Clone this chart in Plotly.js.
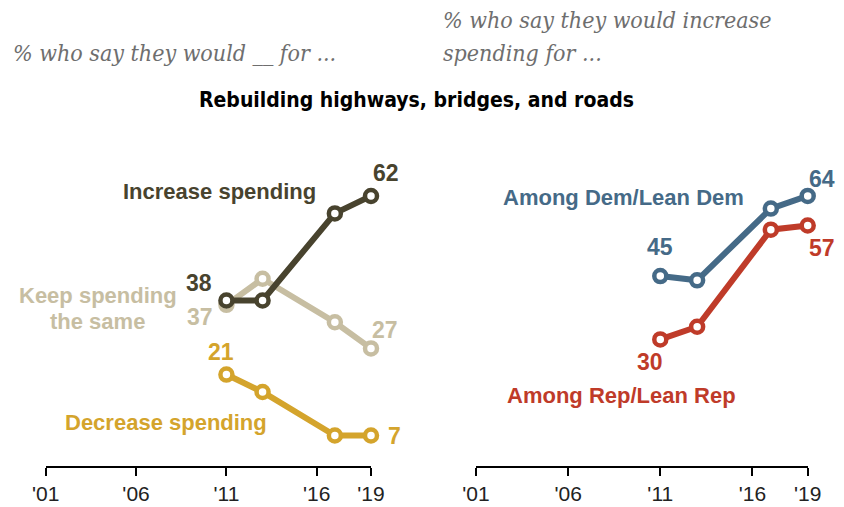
<!DOCTYPE html>
<html>
<head>
<meta charset="utf-8">
<script src="https://cdn.plot.ly/plotly-3.0.1.min.js"></script>
<style>html,body{margin:0;padding:0;background:#fff;}#chart{width:844px;height:507px;}</style>
</head>
<body>
<div id="chart"></div>
<script>
// ---- data ----
const years = [2011, 2013, 2017, 2019];
const increaseSpending = [38, 38, 58, 62];
const keepSame = [37, 43, 33, 27];
const decreaseSpending = [21, 17, 7, 7];
const demLeanDem = [45, 44, 61, 64];
const repLeanRep = [30, 33, 56, 57];
const tickYears = [2001, 2006, 2011, 2016, 2019];
const tickLabels = ["'01", "'06", "'11", "'16", "'19"];

// ---- styles ----
const C_INC = '#48432e', C_KEEP = '#c7bea2', C_DEC = '#d4a42c', C_DEM = '#456a87', C_REP = '#bf3b29';
const W = 844, H = 507;
const px = v => v / W, py = v => 1 - v / H;
const labelFont = 'Liberation Sans, Arial, sans-serif';
const serifFont = 'DejaVu Serif Condensed, DejaVu Serif, serif';

function series(y, color, xa, ya) {
  return {
    x: years, y: y, xaxis: xa, yaxis: ya, type: 'scatter', mode: 'lines+markers',
    line: {color: color, width: 6}, cliponaxis: false, hoverinfo: 'skip',
    marker: {size: 12, color: '#fff', line: {color: color, width: 4.5}}
  };
}
const traces = [
  series(decreaseSpending, C_DEC, 'x', 'y'),
  series(keepSame, C_KEEP, 'x', 'y'),
  series(increaseSpending, C_INC, 'x', 'y'),
  series(repLeanRep, C_REP, 'x2', 'y2'),
  series(demLeanDem, C_DEM, 'x2', 'y2')
];

function xax(domain, anchor) {
  return {
    domain: domain, range: [2001, 2019], anchor: anchor, showgrid: false, zeroline: false,
    showline: true, linecolor: '#000', linewidth: 2,
    ticks: 'outside', ticklen: 8, tickwidth: 2, tickcolor: '#000',
    tickvals: tickYears, ticktext: tickLabels,
    tickfont: {family: labelFont, size: 21, color: '#222'}, fixedrange: true
  };
}
function yax(domain, anchor) {
  return {domain: domain, range: [0, 66], visible: false, fixedrange: true, anchor: anchor};
}

// number labels attached to data points
function num(text, xv, yv, xa, ya, color, xs, ys) {
  return {text: '<b>' + text + '</b>', x: xv, y: yv, xref: xa, yref: ya, showarrow: false,
    xanchor: 'center', yanchor: 'middle',
    xshift: xs, yshift: ys, font: {family: labelFont, size: 23, color: color}};
}
function lab(text, x, y, color) {
  return {text: '<b>' + text + '</b>', x: px(x), y: py(y), xref: 'paper', yref: 'paper',
    xanchor: 'center', yanchor: 'middle',
    showarrow: false, align: 'center', font: {family: labelFont, size: 22, color: color}};
}
function sub(text, x, y) {
  return {text: '<i>' + text + '</i>', x: px(x), y: py(y), xref: 'paper', yref: 'paper',
    xanchor: 'left', yanchor: 'middle', align: 'left', showarrow: false,
    font: {family: serifFont, size: 23, color: '#6e6e6e'}};
}

const annotations = [
  num(increaseSpending[3], years[3], increaseSpending[3], 'x', 'y', C_INC, 15, 23),
  num(increaseSpending[0], years[0], increaseSpending[0], 'x', 'y', C_INC, -27, 18),
  num(keepSame[0], years[0], keepSame[0], 'x', 'y', C_KEEP, -26, -12),
  num(keepSame[3], years[3], keepSame[3], 'x', 'y', C_KEEP, 14, 18),
  num(decreaseSpending[0], years[0], decreaseSpending[0], 'x', 'y', C_DEC, -5, 23),
  num(decreaseSpending[3], years[3], decreaseSpending[3], 'x', 'y', C_DEC, 23, 0),
  num(demLeanDem[3], years[3], demLeanDem[3], 'x2', 'y2', C_DEM, 14, 17),
  num(demLeanDem[0], years[0], demLeanDem[0], 'x2', 'y2', C_DEM, 0, 29),
  num(repLeanRep[3], years[3], repLeanRep[3], 'x2', 'y2', C_REP, 14, -23),
  num(repLeanRep[0], years[0], repLeanRep[0], 'x2', 'y2', C_REP, -10, -23),
  lab('Increase spending', 219.5, 191.5, C_INC),
  lab('Keep spending', 97.5, 295.5, C_KEEP),
  lab('the same', 97.5, 321.5, C_KEEP),
  lab('Decrease spending', 166, 422.5, C_DEC),
  lab('Among Dem/Lean Dem', 623.3, 197.5, C_DEM),
  lab('Among Rep/Lean Rep', 621.7, 395.5, C_REP),
  // subtitles and title
  sub('% who say they would __ for ...', 11, 53),
  sub('% who say they would increase', 441, 20),
  sub('spending for ...', 441, 53),
  {text: '<b>Rebuilding highways, bridges, and roads</b>', x: px(416.5), y: py(100), xref: 'paper', yref: 'paper',
    xanchor: 'center', yanchor: 'middle', showarrow: false,
    font: {family: 'Liberation Sans Narrow, DejaVu Sans Condensed, Arial Narrow, sans-serif', size: 21, color: '#000'}}
];

const layout = {
  width: W, height: H, margin: {l: 0, r: 0, t: 0, b: 0},
  paper_bgcolor: '#fff', plot_bgcolor: 'rgba(0,0,0,0)', showlegend: false,
  xaxis: xax([px(45.7), px(371)], 'y'),
  yaxis: yax([py(466), py(466 - 66 * 4.355)], 'x'),
  xaxis2: xax([px(476), px(807.7)], 'y2'),
  yaxis2: yax([py(466), py(466 - 66 * 4.22)], 'x2'),
  annotations: annotations
};

Plotly.newPlot('chart', traces, layout, {displayModeBar: false, staticPlot: true});
</script>
</body>
</html>
